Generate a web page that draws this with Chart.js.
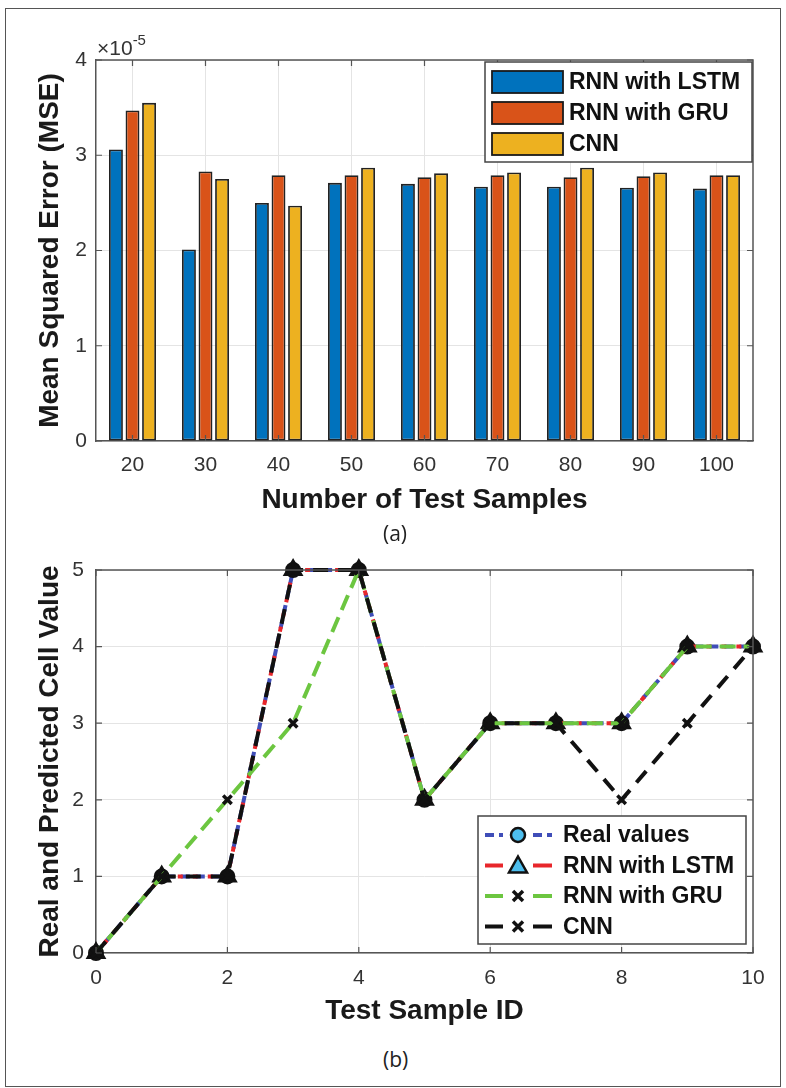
<!DOCTYPE html>
<html><head><meta charset="utf-8">
<script src="https://cdn.jsdelivr.net/npm/chart.js@4.4.1/dist/chart.umd.min.js"></script>
<style>
html,body{margin:0;padding:0;background:#fff;}
#wrap{position:relative;width:786px;height:1088px;overflow:hidden;font-family:"Liberation Sans",Arial,sans-serif;}
#frame{position:absolute;left:5px;top:8px;width:776px;height:1079px;border:1.5px solid #555;box-sizing:border-box;}
#c1{position:absolute;left:0;top:0;}
#c2{position:absolute;left:0;top:540px;}
.cap{position:absolute;font-family:"Open Sans","Noto Sans",sans-serif;font-size:21px;color:#222;}
.exp{position:absolute;left:97px;top:33px;font-family:"Liberation Sans",Arial,sans-serif;font-size:21px;color:#333;}
.exp sup{font-size:15px;position:relative;top:-2px;}
</style>
</head><body>
<div id="wrap">
<div id="frame"></div>
<canvas id="c1" width="786" height="520"></canvas>
<canvas id="c2" width="786" height="494"></canvas>
<div class="exp">×10<sup>-5</sup></div>
<div class="cap" style="left:383px;top:519px;">(a)</div>
<div class="cap" style="left:383px;top:1045px;">(b)</div>
</div>
<script>
// ---- Data (a) ----
const sampleCounts = ['20','30','40','50','60','70','80','90','100'];
const mseLSTM = [3.06, 2.01, 2.50, 2.71, 2.70, 2.67, 2.67, 2.66, 2.65]; // x 1e-5
const mseGRU  = [3.47, 2.83, 2.79, 2.79, 2.77, 2.79, 2.77, 2.78, 2.79];
const mseCNN  = [3.55, 2.75, 2.47, 2.87, 2.81, 2.82, 2.87, 2.82, 2.79];
const mseSeriesNames = ['RNN with LSTM', 'RNN with GRU', 'CNN'];
// ---- Data (b) ----
const sampleIds   = [0,1,2,3,4,5,6,7,8,9,10];
const realValues  = [0,1,1,5,5,2,3,3,3,4,4];
const lstmPred    = [0,1,1,5,5,2,3,3,3,4,4];
const gruPred     = [0,1,2,3,5,2,3,3,3,4,4];
const cnnPred     = [0,1,1,5,5,2,3,3,2,3,4];
const lineSeriesNames = ['Real values', 'RNN with LSTM', 'RNN with GRU', 'CNN'];

const FONT = '"Liberation Sans", Arial, sans-serif';
const barColors = ['#0072BD', '#D95319', '#EDB120'];
const AXIS = '#555';
const GRID = '#e4e4e4';

const boxPlugin = {
  id: 'box',
  afterDatasetsDraw(chart) {
    const {ctx, chartArea: a, scales} = chart;
    ctx.save();
    ctx.strokeStyle = AXIS; ctx.lineWidth = 1.5;
    ctx.beginPath();
    ctx.moveTo(a.left, a.top); ctx.lineTo(a.right, a.top); ctx.lineTo(a.right, a.bottom);
    ctx.stroke();
    ctx.lineWidth = 1.2;
    const xs = scales.x, ys = scales.y;
    xs.ticks.forEach((t, i) => {
      const px = xs.getPixelForTick(i);
      ctx.beginPath();
      ctx.moveTo(px, a.bottom); ctx.lineTo(px, a.bottom - 6);
      ctx.moveTo(px, a.top); ctx.lineTo(px, a.top + 6);
      ctx.stroke();
    });
    ys.ticks.forEach((t) => {
      const py = ys.getPixelForValue(t.value);
      ctx.beginPath();
      ctx.moveTo(a.left, py); ctx.lineTo(a.left + 6, py);
      ctx.moveTo(a.right, py); ctx.lineTo(a.right - 6, py);
      ctx.stroke();
    });
    ctx.restore();
  }
};

const legend1 = {
  id: 'legend1',
  afterDraw(chart) {
    const ctx = chart.ctx;
    const a = chart.chartArea;
    const bx = 485, by = a.top + 2, bw = a.right - 1 - bx, bh = 100;
    ctx.save();
    ctx.fillStyle = '#fff';
    ctx.fillRect(bx, by, bw, bh);
    ctx.strokeStyle = '#444'; ctx.lineWidth = 1.5;
    ctx.strokeRect(bx, by, bw, bh);
    ctx.font = 'bold 23px ' + FONT;
    ctx.textBaseline = 'middle';
    chart.data.datasets.forEach((ds, i) => {
      const cy = by + 20 + i * 31;
      ctx.fillStyle = ds.backgroundColor;
      ctx.fillRect(492, cy - 11, 71, 22);
      ctx.strokeStyle = '#1a1a1a'; ctx.lineWidth = 1.8;
      ctx.strokeRect(492, cy - 11, 71, 22);
      ctx.fillStyle = '#111';
      ctx.fillText(ds.label, 569, cy + 1);
    });
    ctx.restore();
  }
};

const barDatasets = [mseLSTM, mseGRU, mseCNN].map((d, i) => ({
  label: mseSeriesNames[i],
  data: d,
  backgroundColor: barColors[i],
  borderColor: '#222',
  borderWidth: 1.8,
  borderSkipped: false,
  categoryPercentage: 0.68,
  barPercentage: 0.84
}));

new Chart(document.getElementById('c1'), {
  type: 'bar',
  data: { labels: sampleCounts, datasets: barDatasets },
  options: {
    responsive: false, animation: false, devicePixelRatio: 1,
    layout: { padding: { left: 0, top: 60, right: 33, bottom: 0 } },
    plugins: { legend: { display: false }, tooltip: { enabled: false } },
    scales: {
      x: {
        grid: { offset: false, color: GRID, drawTicks: false },
        border: { color: AXIS, width: 1.5 },
        ticks: { padding: 12, color: '#333', font: { size: 21, family: FONT } },
        title: { display: true, text: 'Number of Test Samples', color: '#1a1a1a',
                 font: { size: 28, weight: 'bold', family: FONT }, padding: { top: 0, bottom: 3 } },
        afterFit(s) { s.height = 79; }
      },
      y: {
        min: 0, max: 4,
        grid: { color: GRID, drawTicks: false },
        border: { color: AXIS, width: 1.5 },
        ticks: { stepSize: 1, padding: 9, color: '#333', font: { size: 21, family: FONT } },
        title: { display: true, text: 'Mean Squared Error (MSE)', color: '#1a1a1a',
                 font: { size: 28, weight: 'bold', family: FONT }, padding: { top: 33, bottom: 0 } },
        afterFit(s) { s.width = 96; }
      }
    }
  },
  plugins: [boxPlugin, legend1]
});

// ---- chart (b) ----
const lineStyles = [
  { color: '#3f4db8', dash: [9, 6], dashOffset: 0 },
  { color: '#e8262b', dash: [5, 10], dashOffset: 3 },
  { color: '#6cc640', dash: [16, 8], dashOffset: 6 },
  { color: '#111111', dash: [15, 10], dashOffset: 0 }
];
const markerStyles = [
  { style: 'circle', radius: 7, bg: '#111', border: '#111', bw: 2 },
  { style: 'triangle', radius: 10, bg: '#111', border: '#111', bw: 2 },
  { style: 'crossRot', radius: 6, bg: '#111', border: '#111', bw: 3.5 },
  { style: 'crossRot', radius: 6, bg: '#111', border: '#111', bw: 3.5 }
];
const lineData = [realValues, lstmPred, gruPred, cnnPred];
const lineDatasets = lineData.map((vals, i) => ({
  label: lineSeriesNames[i],
  data: sampleIds.map((x, k) => ({ x: x, y: vals[k] })),
  borderColor: lineStyles[i].color,
  borderDash: lineStyles[i].dash,
  borderDashOffset: lineStyles[i].dashOffset,
  borderWidth: 4,
  tension: 0, fill: false,
  pointStyle: markerStyles[i].style,
  pointRadius: markerStyles[i].radius,
  pointBackgroundColor: markerStyles[i].bg,
  pointBorderColor: markerStyles[i].border,
  pointBorderWidth: markerStyles[i].bw,
  order: 3 - i,
  clip: false
}));

const legend2 = {
  id: 'legend2',
  afterDraw(chart) {
    const ctx = chart.ctx;
    const bx = 478, by = 816 - 540, bw = 268, bh = 128;
    ctx.save();
    ctx.fillStyle = '#fff';
    ctx.fillRect(bx, by, bw, bh);
    ctx.strokeStyle = '#444'; ctx.lineWidth = 1.5;
    ctx.strokeRect(bx, by, bw, bh);
    ctx.font = 'bold 23px ' + FONT;
    ctx.textBaseline = 'middle';
    const markerFill = ['#4DBEEE', '#4DBEEE', '#111', '#111'];
    chart.data.datasets.forEach((ds, i) => {
      const cy = by + 19 + i * 30.5;
      ctx.save();
      ctx.strokeStyle = lineStyles[i].color;
      ctx.lineWidth = 3.8;
      ctx.setLineDash(i === 0 ? [9, 5] : []);
      ctx.beginPath(); ctx.moveTo(485, cy); ctx.lineTo(503, cy); ctx.moveTo(533, cy); ctx.lineTo(552, cy); ctx.stroke();
      ctx.restore();
      const mx = 518;
      ctx.save();
      ctx.lineWidth = i < 2 ? 2.5 : 3.5;
      ctx.strokeStyle = '#111';
      ctx.fillStyle = markerFill[i];
      ctx.beginPath();
      if (i === 0) { ctx.arc(mx, cy, 7, 0, Math.PI * 2); ctx.fill(); ctx.stroke(); }
      else if (i === 1) { ctx.moveTo(mx, cy - 9); ctx.lineTo(mx + 9, cy + 7); ctx.lineTo(mx - 9, cy + 7); ctx.closePath(); ctx.fill(); ctx.stroke(); }
      else { ctx.moveTo(mx - 5, cy - 5); ctx.lineTo(mx + 5, cy + 5); ctx.moveTo(mx + 5, cy - 5); ctx.lineTo(mx - 5, cy + 5); ctx.stroke(); }
      ctx.restore();
      ctx.fillStyle = '#111';
      ctx.fillText(ds.label, 563, cy + 1);
    });
    ctx.restore();
  }
};

new Chart(document.getElementById('c2'), {
  type: 'line',
  data: { datasets: lineDatasets },
  options: {
    responsive: false, animation: false, devicePixelRatio: 1,
    layout: { padding: { left: 0, top: 30, right: 33, bottom: 0 } },
    plugins: { legend: { display: false }, tooltip: { enabled: false } },
    scales: {
      x: {
        type: 'linear', min: 0, max: 10,
        grid: { color: GRID, drawTicks: false },
        border: { color: AXIS, width: 1.5 },
        ticks: { stepSize: 2, padding: 13, color: '#333', font: { size: 21, family: FONT } },
        title: { display: true, text: 'Test Sample ID', color: '#1a1a1a',
                 font: { size: 28, weight: 'bold', family: FONT }, padding: { top: 0, bottom: 6 } },
        afterFit(s) { s.height = 81; }
      },
      y: {
        min: 0, max: 5,
        grid: { color: GRID, drawTicks: false },
        border: { color: AXIS, width: 1.5 },
        ticks: { stepSize: 1, padding: 12, color: '#333', font: { size: 21, family: FONT } },
        title: { display: true, text: 'Real and Predicted Cell Value', color: '#1a1a1a',
                 font: { size: 28, weight: 'bold', family: FONT }, padding: { top: 33, bottom: 0 } },
        afterFit(s) { s.width = 96; }
      }
    }
  },
  plugins: [boxPlugin, legend2]
});
</script>
</body></html>
